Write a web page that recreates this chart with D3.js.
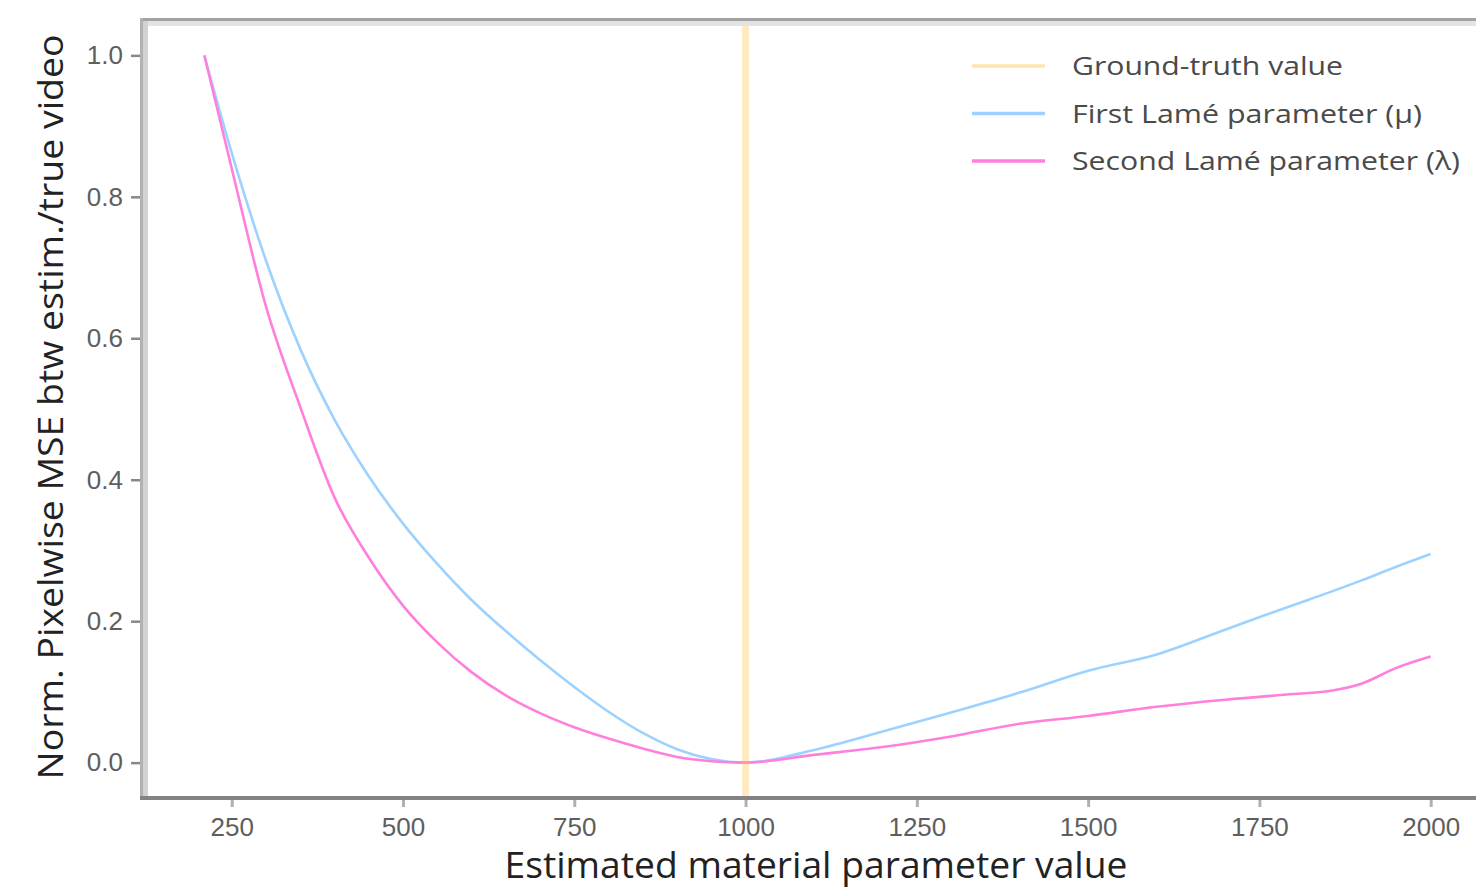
<!DOCTYPE html>
<html>
<head>
<meta charset="utf-8">
<script src="https://cdn.jsdelivr.net/npm/d3@7"></script>
<style>
  body { margin: 0; background: #fff; }
  svg { display: block; font-family: "Open Sans", "DejaVu Sans", sans-serif; }
</style>
</head>
<body>
<script>
// sampled parameter values (x) and normalised MSE for each sweep
var paramValues = [210, 250, 300, 350, 400, 450, 500, 550, 600, 650, 700, 750, 800, 850, 900, 950,
                   1000, 1100, 1200, 1300, 1400, 1500, 1600, 1700, 1800, 1850, 1900, 1950, 2000];
var muValues = [1.0, 0.862, 0.71, 0.585, 0.485, 0.405, 0.338, 0.281, 0.23, 0.186, 0.145, 0.107, 0.072, 0.042, 0.019, 0.005,
                0.0, 0.018, 0.044, 0.071, 0.099, 0.13, 0.153, 0.188, 0.223, 0.24, 0.258, 0.277, 0.295];
var lambdaValues = [1.0, 0.84, 0.645, 0.503, 0.375, 0.29, 0.222, 0.17, 0.128, 0.095, 0.07, 0.05, 0.034, 0.02, 0.008, 0.002,
                    0.0, 0.011, 0.022, 0.037, 0.055, 0.066, 0.079, 0.089, 0.097, 0.101, 0.112, 0.134, 0.15];
var groundTruth = 1000;
var xTicks = [250, 500, 750, 1000, 1250, 1500, 1750, 2000];
var yTicks = [0.0, 0.2, 0.4, 0.6, 0.8, 1.0];
var seriesNames = ["Ground-truth value", "First Lamé parameter (μ)", "Second Lamé parameter (λ)"];
var seriesColors = ["#ffc34d", "#9dd2ff", "#ff7fdc"];

var width = 1476, height = 888,
    plotLeft = 143, plotTop = 20, plotRight = 1492, plotBottom = 798;

var svg = d3.select("body").append("svg")
    .attr("width", width)
    .attr("height", height);

// matplotlib-style 5% padding round the data
var xExt = d3.extent(paramValues), xPad = (xExt[1] - xExt[0]) * 0.05;
var x = d3.scaleLinear().domain([xExt[0] - xPad, xExt[1] + xPad]).range([plotLeft, plotRight]);
var y = d3.scaleLinear().domain([-0.05, 1.05]).range([plotBottom, plotTop]);

var line = d3.line()
    .x(function(d){ return x(d[0]); })
    .y(function(d){ return y(d[1]); })
    .curve(d3.curveMonotoneX);

var muData = paramValues.map(function(v, i){ return [v, muValues[i]]; });
var lambdaData = paramValues.map(function(v, i){ return [v, lambdaValues[i]]; });

svg.append("path").datum(muData)
    .attr("d", line).attr("fill", "none")
    .attr("stroke", seriesColors[1]).attr("stroke-width", 2.6);
svg.append("path").datum(lambdaData)
    .attr("d", line).attr("fill", "none")
    .attr("stroke", seriesColors[2]).attr("stroke-width", 2.6);

svg.append("line")
    .attr("x1", x(groundTruth)).attr("x2", x(groundTruth))
    .attr("y1", plotTop).attr("y2", plotBottom)
    .attr("stroke", seriesColors[0]).attr("stroke-opacity", 0.35)
    .attr("stroke-width", 7);

// spines (soft, as in the blurry source)
svg.append("rect").attr("x", plotLeft).attr("y", plotTop + 1).attr("width", width - plotLeft).attr("height", 5).attr("fill", "#e3e3e3");
svg.append("rect").attr("x", plotLeft).attr("y", plotTop + 1).attr("width", 5).attr("height", plotBottom - plotTop - 1).attr("fill", "#d2d2d2");
svg.append("line").attr("x1", plotLeft - 2).attr("x2", width).attr("y1", plotTop - 0.5).attr("y2", plotTop - 0.5)
    .attr("stroke", "#a2a2a2").attr("stroke-width", 3);
svg.append("line").attr("x1", plotLeft - 1.5).attr("x2", plotLeft - 1.5).attr("y1", plotTop - 2).attr("y2", plotBottom)
    .attr("stroke", "#b2b2b2").attr("stroke-width", 3);
svg.append("line").attr("x1", plotLeft - 3).attr("x2", width).attr("y1", plotBottom).attr("y2", plotBottom)
    .attr("stroke", "#838383").attr("stroke-width", 4);

// axes
var xAxis = svg.append("g")
    .attr("transform", "translate(0," + (plotBottom + 2) + ")")
    .call(d3.axisBottom(x).tickValues(xTicks).tickSize(7).tickPadding(11).tickFormat(d3.format("d")));
xAxis.select(".domain").remove();
xAxis.selectAll(".tick line").attr("stroke", "#b0b0b0").attr("stroke-width", 3);
xAxis.selectAll(".tick text").attr("fill", "#5e5e5e").style("font-size", "26px");

var yAxis = svg.append("g")
    .attr("transform", "translate(" + (plotLeft - 3) + ",0)")
    .call(d3.axisLeft(y).tickValues(yTicks).tickSize(9).tickPadding(8).tickFormat(d3.format(".1f")));
yAxis.select(".domain").remove();
yAxis.selectAll(".tick line").attr("stroke", "#888").attr("stroke-width", 2.5);
yAxis.selectAll(".tick text").attr("fill", "#5e5e5e").style("font-size", "26px");

// axis titles
svg.append("text")
    .attr("x", 816).attr("y", 878)
    .attr("text-anchor", "middle")
    .attr("fill", "#222")
    .style("font-size", "36px")
    .attr("textLength", 623).attr("lengthAdjust", "spacingAndGlyphs")
    .text("Estimated material parameter value");

svg.append("text")
    .attr("transform", "translate(63,407) rotate(-90)")
    .attr("text-anchor", "middle")
    .attr("fill", "#222")
    .style("font-size", "34px")
    .attr("textLength", 745).attr("lengthAdjust", "spacingAndGlyphs")
    .text("Norm. Pixelwise MSE btw estim./true video");

// legend
var legendWidths = [271, 350, 388];
var legend = svg.append("g").attr("transform", "translate(972,66)");
var item = legend.selectAll("g")
    .data(seriesNames)
    .enter()
    .append("g")
    .attr("transform", function(d, i){ return "translate(0," + i * 47.5 + ")"; });
item.append("line")
    .attr("x1", 0).attr("x2", 73)
    .attr("stroke", function(d, i){ return seriesColors[i]; })
    .attr("stroke-opacity", function(d, i){ return i === 0 ? 0.45 : 1; })
    .attr("stroke-width", 3.5);
item.append("text")
    .attr("x", 100).attr("y", 9)
    .attr("fill", "#4a4a4a")
    .style("font-size", "26px")
    .attr("textLength", function(d, i){ return legendWidths[i]; })
    .attr("lengthAdjust", "spacingAndGlyphs")
    .text(function(d){ return d; });
</script>
</body>
</html>
